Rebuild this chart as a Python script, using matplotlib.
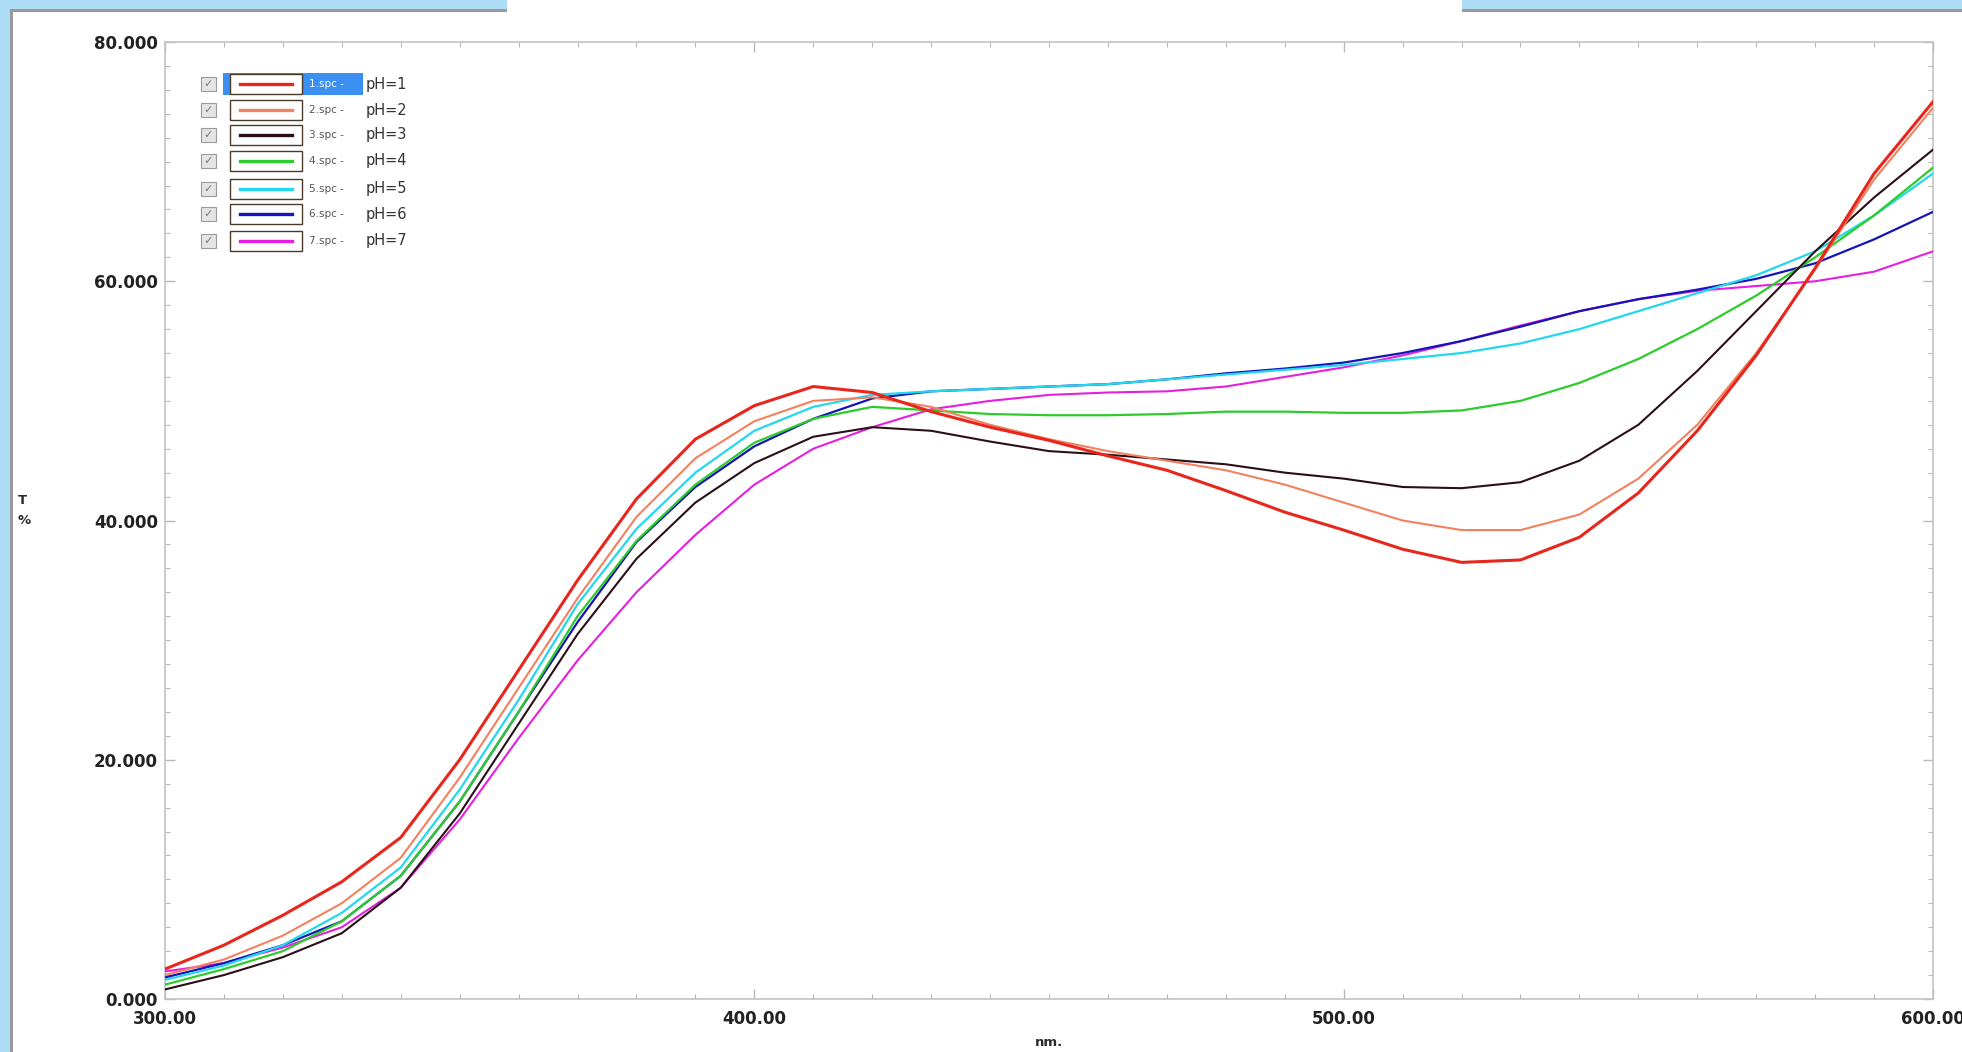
import matplotlib
matplotlib.use("Agg")
import matplotlib.pyplot as plt
from matplotlib.patches import Rectangle
from matplotlib.lines import Line2D
from matplotlib.ticker import MultipleLocator, FuncFormatter

# ---------------- data ----------------
wavelength = [300, 310, 320, 330, 340, 350, 360, 370, 380, 390, 400,
              410, 420, 430, 440, 450, 460, 470, 480, 490, 500,
              510, 520, 530, 540, 550, 560, 570, 580, 590, 600]

ph1 = [2.5, 4.5, 7.0, 9.8, 13.5, 20.0, 27.5, 35.0, 41.8, 46.8, 49.6,
       51.2, 50.7, 49.1, 47.8, 46.7, 45.4, 44.2, 42.5, 40.7, 39.2,
       37.6, 36.5, 36.7, 38.6, 42.3, 47.5, 53.8, 61.1, 69.0, 75.0]
ph2 = [2.0, 3.3, 5.3, 8.0, 11.8, 18.5, 26.0, 33.5, 40.3, 45.2, 48.3,
       50.0, 50.3, 49.5, 48.0, 46.8, 45.8, 45.0, 44.2, 43.0, 41.5,
       40.0, 39.2, 39.2, 40.5, 43.5, 48.0, 54.0, 61.0, 68.5, 74.5]
ph3 = [0.8, 2.0, 3.5, 5.5, 9.3, 15.5, 23.0, 30.5, 36.8, 41.5, 44.8,
       47.0, 47.8, 47.5, 46.6, 45.8, 45.5, 45.1, 44.7, 44.0, 43.5,
       42.8, 42.7, 43.2, 45.0, 48.0, 52.5, 57.5, 62.5, 67.0, 71.0]
ph4 = [1.2, 2.5, 4.0, 6.5, 10.3, 16.5, 24.0, 32.0, 38.3, 43.0, 46.5,
       48.5, 49.5, 49.2, 48.9, 48.8, 48.8, 48.9, 49.1, 49.1, 49.0,
       49.0, 49.2, 50.0, 51.5, 53.5, 56.0, 58.8, 62.0, 65.5, 69.5]
ph5 = [1.6, 2.8, 4.5, 7.2, 11.0, 17.5, 25.0, 33.0, 39.3, 44.0, 47.5,
       49.5, 50.5, 50.8, 51.0, 51.2, 51.4, 51.8, 52.2, 52.6, 53.0,
       53.5, 54.0, 54.8, 56.0, 57.5, 59.0, 60.5, 62.5, 65.5, 69.0]
ph6 = [1.8, 3.0, 4.5, 6.5, 10.3, 16.5, 24.0, 31.5, 38.2, 42.8, 46.2,
       48.5, 50.2, 50.8, 51.0, 51.2, 51.4, 51.8, 52.3, 52.7, 53.2,
       54.0, 55.0, 56.2, 57.5, 58.5, 59.3, 60.2, 61.5, 63.5, 65.8]
ph7 = [2.3, 3.0, 4.3, 6.0, 9.3, 15.0, 21.8, 28.3, 34.0, 38.8, 43.0,
       46.0, 47.8, 49.3, 50.0, 50.5, 50.7, 50.8, 51.2, 52.0, 52.8,
       53.8, 55.0, 56.3, 57.5, 58.5, 59.2, 59.6, 60.0, 60.8, 62.5]

series = [ph1, ph2, ph3, ph4, ph5, ph6, ph7]
file_labels = ["1.spc", "2.spc", "3.spc", "4.spc", "5.spc", "6.spc", "7.spc"]
ph_labels = ["pH=1", "pH=2", "pH=3", "pH=4", "pH=5", "pH=6", "pH=7"]
colors = ["#e8261c", "#f3805e", "#2a0f18", "#2ccc2c", "#22d8ec", "#1414b8", "#e61ee0"]
widths = [2.2, 1.5, 1.5, 1.6, 1.6, 1.6, 1.5]

x_ticks = [300, 400, 500, 600]
y_ticks = [0, 20, 40, 60, 80]

# ---------------- figure ----------------
W, H = 1962, 1052
fig = plt.figure(figsize=(W / 100, H / 100), dpi=100)
fig.patch.set_facecolor("#acdcf6")


def fx(px):
    return px / W


def fy(py):
    return 1 - py / H


def frect(x0, y0, x1, y1, **kw):
    fig.patches.append(Rectangle((fx(x0), fy(y1)), fx(x1) - fx(x0), fy(y0) - fy(y1),
                                 transform=fig.transFigure, **kw))


# window chrome
frect(10, 9, W, H, facecolor="#9a9a9a", edgecolor="none", zorder=-3)
frect(13, 12, W, H, facecolor="white", edgecolor="none", zorder=-2)
frect(507, 0, 1462, 40, facecolor="white", edgecolor="none", zorder=-1)

ax = fig.add_axes([fx(165), fy(999), fx(1933) - fx(165), fy(42) - fy(999)])
ax.set_zorder(2)
ax.set_facecolor("white")

order = [6, 5, 4, 3, 2, 1, 0]
for i in order:
    ax.plot(wavelength, series[i], color=colors[i], lw=widths[i],
            solid_joinstyle="round", zorder=3 + (7 - i))

ax.set_xlim(300, 600)
ax.set_ylim(0, 80)
ax.set_xticks(x_ticks)
ax.set_yticks(y_ticks)
ax.xaxis.set_minor_locator(MultipleLocator(10))
ax.yaxis.set_minor_locator(MultipleLocator(2))
ax.xaxis.set_major_formatter(FuncFormatter(lambda v, p: f"{v:.2f}"))
ax.yaxis.set_major_formatter(FuncFormatter(lambda v, p: f"{v:.3f}"))

for s in ax.spines.values():
    s.set_color("#c4c4c4")
    s.set_linewidth(1.2)

ax.tick_params(which="both", direction="in", colors="#b8b8b8",
               top=True, right=True, labelcolor="#222222")
ax.tick_params(which="major", length=7, width=1)
ax.tick_params(which="minor", length=3.5, width=0.8)
ax.tick_params(axis="x", which="major", pad=8)
ax.tick_params(axis="y", which="major", pad=5)
for lab in ax.get_xticklabels() + ax.get_yticklabels():
    lab.set_fontweight("bold")
    lab.set_fontsize(12)
    lab.set_fontfamily("DejaVu Sans")

# axis titles
fig.text(fx(22), fy(500), "T", ha="center", va="center", fontsize=9.5,
         fontweight="bold", color="#2a2a2a")
fig.text(fx(24), fy(520), "%", ha="center", va="center", fontsize=9.5,
         fontweight="bold", color="#2a2a2a")
fig.text(fx(1049), fy(1042), "nm.", ha="center", va="center", fontsize=9.5,
         fontweight="bold", color="#2a2a2a")

# legend (checkbox list)
row_y = [84, 110, 135, 161, 189, 214, 241]
frect(223, 73, 363, 95, facecolor="#3b8ff0", edgecolor="none", zorder=5)
for i in range(7):
    cy = row_y[i]
    frect(201, cy - 7, 216, cy + 7, facecolor="#e4e4e4", edgecolor="#9a9a9a",
          lw=0.8, zorder=6)
    fig.text(fx(208.5), fy(cy), "✓", ha="center", va="center", fontsize=8,
             color="#777777", zorder=7)
    frect(230, cy - 10, 302, cy + 10, facecolor="white", edgecolor="#4a3a2a",
          lw=1.0, zorder=6)
    fig.lines.append(Line2D([fx(240), fx(292)], [fy(cy), fy(cy)],
                            transform=fig.transFigure, color=colors[i],
                            lw=2.4, zorder=7))
    fc = "white" if i == 0 else "#555555"
    fig.text(fx(309), fy(cy), file_labels[i] + " -", ha="left", va="center",
             fontsize=7.5, color=fc, zorder=7)
    fig.text(fx(366), fy(cy), ph_labels[i], ha="left", va="center",
             fontsize=10.5, color="#333333", zorder=7)

fig.savefig("out.png", dpi=100, facecolor=fig.get_facecolor())
